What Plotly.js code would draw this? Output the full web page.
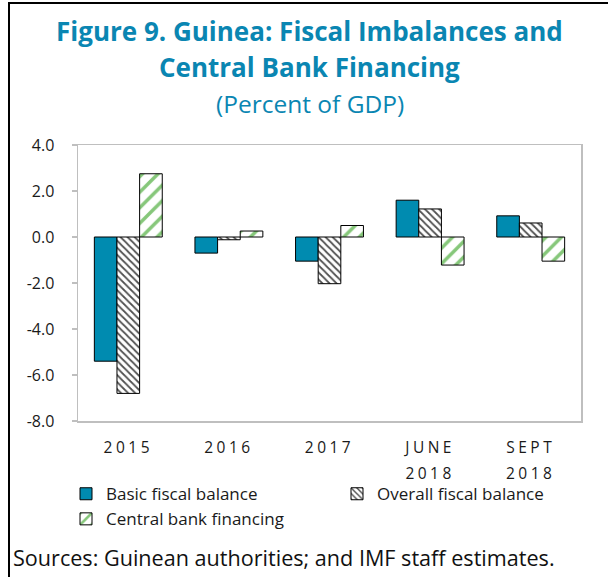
<!DOCTYPE html>
<html>
<head>
<meta charset="utf-8">
<script src="https://cdn.plot.ly/plotly-3.0.1.min.js"></script>
<style>
  html, body { margin: 0; padding: 0; background: #fff; }
  #wrap { position: relative; width: 608px; height: 577px; }
  #chart { width: 608px; height: 577px; }
  #frame { position: absolute; left: 8px; top: 2px; right: 0; bottom: 0;
           border-top: 2px solid #000; border-left: 2px solid #000; pointer-events: none; }
  .xtick text { letter-spacing: 3.5px; }
</style>
</head>
<body>
<div id="wrap">
  <div id="chart"></div>
  <div id="frame"></div>
</div>
<script>
// ---- data ----
const categories = ['2015', '2016', '2017', 'JUNE 2018', 'SEPT 2018'];
const categoryLabels = ['2015', '2016', '2017', 'JUNE<br>2018', 'SEPT<br>2018'];
const basicFiscalBalance = [-5.4, -0.7, -1.05, 1.6, 0.92];
const overallFiscalBalance = [-6.8, -0.12, -2.03, 1.22, 0.61];
const centralBankFinancing = [2.75, 0.26, 0.5, -1.22, -1.05];
const yTickValues = [4, 2, 0, -2, -4, -6, -8];
const yTickLabels = ['4.0', '2.0', '0.0', '-2.0', '-4.0', '-6.0', '-8.0'];

const FONT = 'Open Sans, Noto Sans, sans-serif';
const TEAL = '#0a86b2';
const GRID = '#bfbfbf';
const INK = '#1a1a1a';

const traces = [
  {
    type: 'bar', name: 'Basic fiscal balance', x: categories, y: basicFiscalBalance,
    marker: { color: '#008bb0', line: { color: '#000', width: 1 } }
  },
  {
    type: 'bar', name: 'Overall fiscal balance', x: categories, y: overallFiscalBalance,
    marker: { color: '#ffffff', line: { color: '#000', width: 1 },
      pattern: { shape: '\\', fgcolor: '#505050', bgcolor: '#ffffff', size: 5, solidity: 0.35 } }
  },
  {
    type: 'bar', name: 'Central bank financing', x: categories, y: centralBankFinancing,
    marker: { color: '#ffffff', line: { color: '#000', width: 1 },
      pattern: { shape: '/', fgcolor: '#86c77a', bgcolor: '#ffffff', size: 11, solidity: 0.32 } }
  }
];

const layout = {
  width: 608, height: 577,
  margin: { l: 78, r: 27, t: 145, b: 156 },
  paper_bgcolor: '#fff', plot_bgcolor: '#fff',
  font: { family: FONT, color: INK, size: 15 },
  barmode: 'group', bargap: 0.325, bargroupgap: 0,
  showlegend: true,
  legend: {
    orientation: 'h', x: -0.008, xanchor: 'left', y: -0.2, yanchor: 'top',
    font: { family: FONT, size: 17, color: INK },
    entrywidth: 226, traceorder: 'normal', bgcolor: 'rgba(0,0,0,0)'
  },
  xaxis: {
    type: 'category', categoryorder: 'array', categoryarray: categories,
    tickvals: categories, ticktext: categoryLabels,
    range: [-0.5, 4.5],
    showline: true, mirror: true, linecolor: GRID, linewidth: 1.5,
    ticks: '', showgrid: false, zeroline: false,
    ticklabelstandoff: 12,
    tickfont: { family: FONT, size: 15.5, color: INK }
  },
  xaxis2: {
    type: 'category', categoryorder: 'array', categoryarray: categories,
    overlaying: 'x', anchor: 'free', position: 8 / 12,
    range: [-0.5, 4.5],
    showline: true, linecolor: GRID, linewidth: 1.5,
    ticks: 'inside', tickson: 'boundaries', ticklen: 7, tickcolor: GRID, tickwidth: 1.5,
    showticklabels: false, showgrid: false, zeroline: false
  },
  yaxis: {
    range: [-8, 4], tickvals: yTickValues, ticktext: yTickLabels,
    showline: true, mirror: true, linecolor: GRID, linewidth: 1.5,
    ticks: 'outside', ticklen: 5, tickcolor: GRID, tickwidth: 1.5,
    showgrid: false, zeroline: false, ticklabelstandoff: 14,
    tickfont: { family: FONT, size: 16, color: INK }
  },
  annotations: [
    { text: '<b>Figure 9. Guinea: Fiscal Imbalances and</b>', xref: 'paper', yref: 'paper',
      x: 0.461, y: (421 - 31) / 276, xanchor: 'center', yanchor: 'middle', showarrow: false,
      font: { family: FONT, size: 26, color: TEAL } },
    { text: '<b>Central Bank Financing</b>', xref: 'paper', yref: 'paper',
      x: 0.461, y: (421 - 67) / 276, xanchor: 'center', yanchor: 'middle', showarrow: false,
      font: { family: FONT, size: 26, color: TEAL } },
    { text: '(Percent of GDP)', xref: 'paper', yref: 'paper',
      x: 0.461, y: (421 - 103) / 276, xanchor: 'center', yanchor: 'middle', showarrow: false,
      font: { family: FONT, size: 24.5, color: TEAL } },
    { text: 'Sources: Guinean authorities; and IMF staff estimates.', xref: 'paper', yref: 'paper',
      x: -0.133, y: -0.496, xanchor: 'left', yanchor: 'middle', showarrow: false,
      font: { family: FONT, size: 21.6, color: '#111' } }
  ]
};

Plotly.newPlot('chart', traces, layout, { displayModeBar: false, staticPlot: true }).then(function (gd) {
  // widen the line spacing of the two-line category labels
  gd.querySelectorAll('.xtick text tspan.line').forEach(function (t) {
    if (t.getAttribute('dy') && t.getAttribute('dy') !== '0em') t.setAttribute('dy', '1.68em');
  });
});
</script>
</body>
</html>
